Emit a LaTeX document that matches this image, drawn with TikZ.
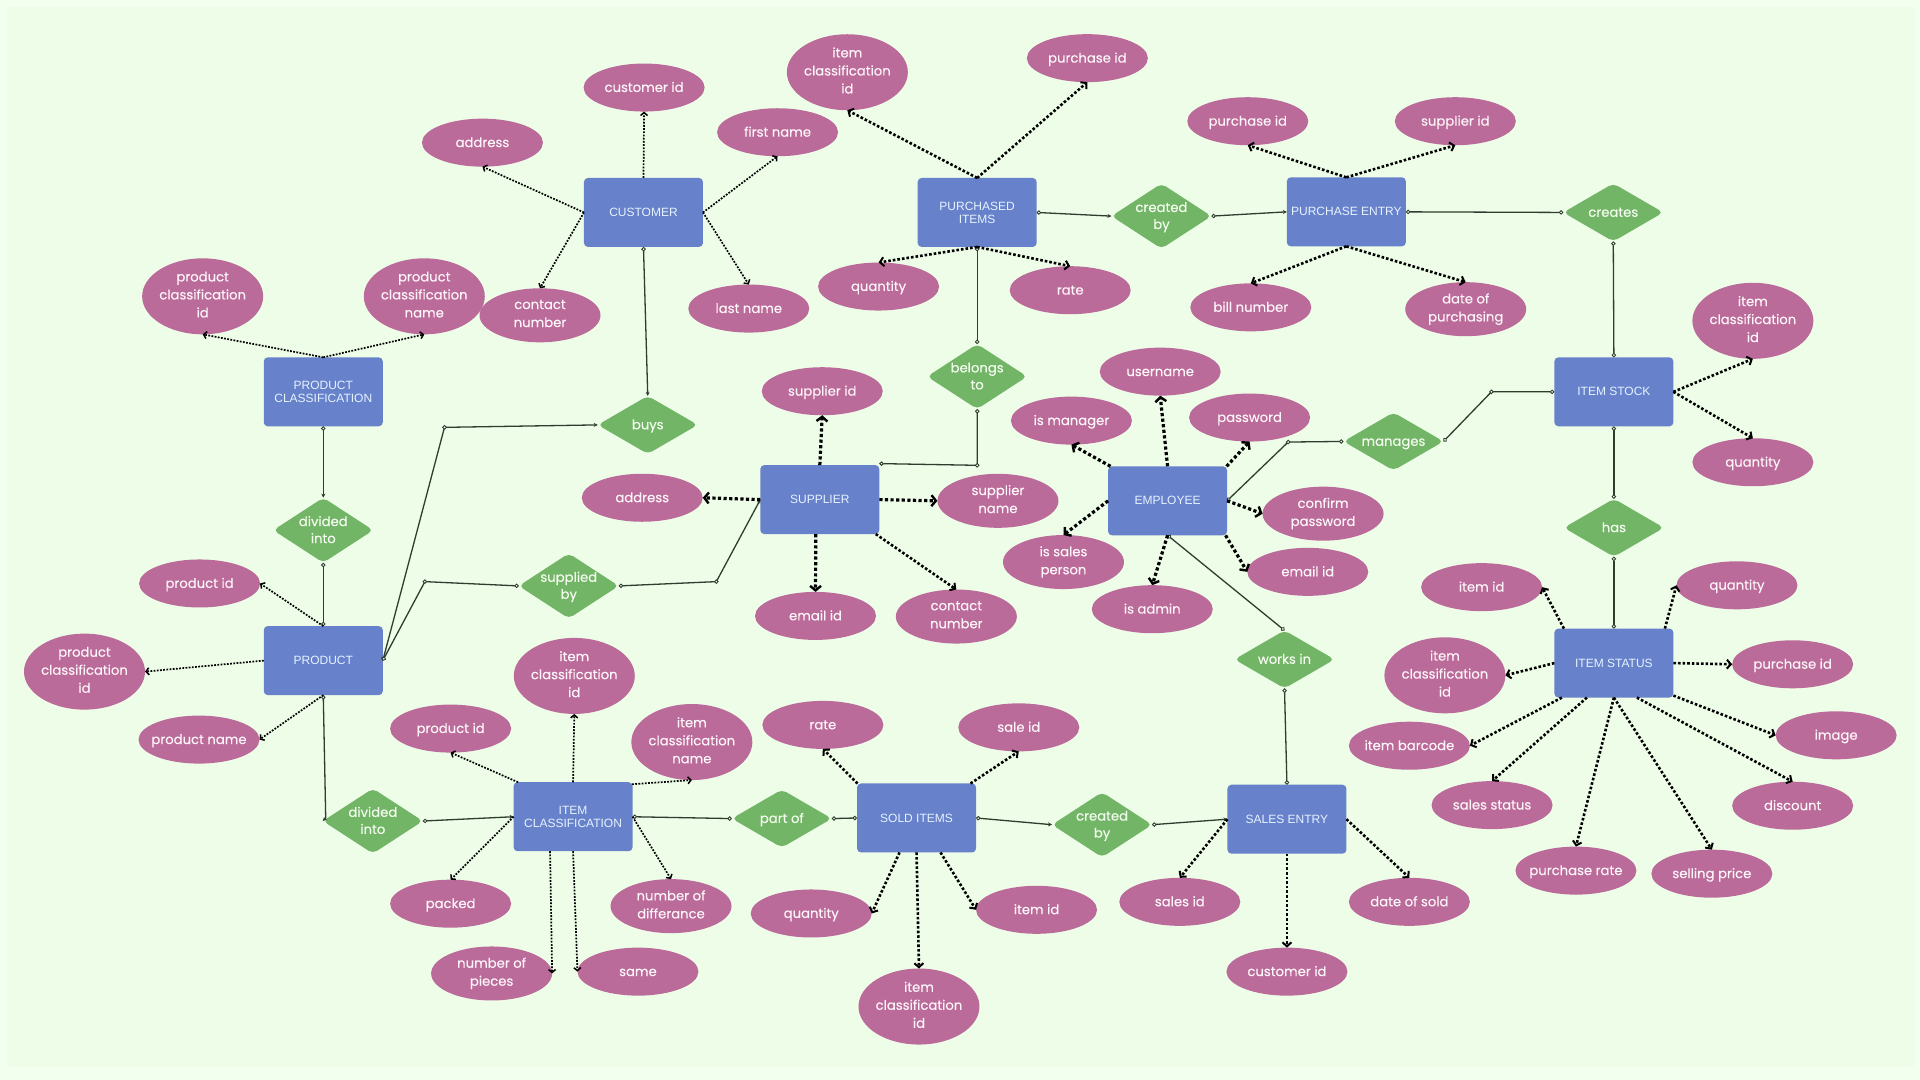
\documentclass[tikz,border=0pt]{standalone}
\usepackage{fontspec}
\setmainfont{Poppins}[FakeBold=0.2]
\newfontfamily\boxfont{Liberation Sans}
\usetikzlibrary{shapes.geometric,arrows.meta}
\definecolor{bgout}{HTML}{F3FFEE}
\definecolor{bgin}{HTML}{EEFDE8}
\definecolor{entc}{HTML}{6781CB}
\definecolor{attc}{HTML}{BB6B9A}
\definecolor{relc}{HTML}{72B566}
\definecolor{attt}{HTML}{FDF5F9}
\definecolor{entt}{HTML}{E6F3FF}
\definecolor{relt}{HTML}{F4FCEF}
\definecolor{solidc}{HTML}{2E3D2E}
\newcommand{\RL}[1]{\smash{\makebox[0pt]{\raisebox{-0.3em}{\begin{tabular}{@{}c@{}}#1\end{tabular}}}}}
\tikzset{
  ent/.style={draw=none,fill=entc,rounded corners=4pt,minimum width=119pt,minimum height=69pt,inner sep=0pt,outer sep=0pt,align=center,text=entt,font=\boxfont\fontsize{12}{13}\selectfont},
  att/.style={ellipse,draw=none,fill=attc,minimum width=121pt,minimum height=48pt,inner xsep=-30pt,inner ysep=-20pt,outer sep=0pt,align=center,text=attt,font=\fontsize{13.2}{18}\selectfont,execute at begin node={\rule{0pt}{12.4pt}},execute at end node={\vphantom{hg}}},
  att2/.style={att,minimum height=54pt},
  att3/.style={att,minimum height=76pt},
  rel/.style={diamond,draw=none,fill=relc,rounded corners=5pt,minimum width=100pt,minimum height=65pt,inner sep=0pt,outer sep=0pt,text=relt,font=\fontsize{13.2}{17}\selectfont},
  relone/.style={rel,minimum height=58pt},
  conn/.style={draw=solidc,line width=1.3pt,{Circle[open,fill=white,length=4.4pt,width=4.4pt,line width=.9pt]}-{Stealth[length=4pt,width=4pt]}},
  conncc/.style={draw=solidc,line width=1.3pt,{Circle[open,fill=white,length=4.4pt,width=4.4pt,line width=.9pt]}-{Circle[open,fill=white,length=4.4pt,width=4.4pt,line width=.9pt]}},
  dotthin/.style={draw=black,line width=1.7pt,dash pattern=on 1.8pt off 1.4pt,-{Straight Barb[length=3pt,width=7pt,line width=1.5pt]}},
  dotmid/.style={draw=black,line width=2.6pt,dash pattern=on 2.6pt off 2pt,-{Straight Barb[length=4pt,width=9pt,line width=2pt]}},
  dotthick/.style={draw=black,line width=3.2pt,dash pattern=on 3.2pt off 2.4pt,-{Straight Barb[length=4.5pt,width=11pt,line width=2.4pt]}},
  elbow/.style={draw=solidc,fill=white,line width=.9pt},
}
\begin{document}
\begin{tikzpicture}[x=1.22449pt,y=-1.22449pt]
\useasboundingbox (0,0) rectangle (1568,882);
\fill[bgout] (0,0) rectangle (1568,882);
\fill[bgin] (5.5,5.5) rectangle (1563,871);

% entities
\node[ent] (customer) at (525.5,173.5) {CUSTOMER};
\node[ent] (purchased) at (798,173.5) {PURCHASED\\ITEMS};
\node[ent] (pentry) at (1099.5,173) {PURCHASE ENTRY};
\node[ent] (pclass) at (264,320) {PRODUCT\\CLASSIFICATION};
\node[ent] (stock) at (1318,320) {ITEM STOCK};
\node[ent] (supplier) at (669.5,408) {SUPPLIER};
\node[ent] (employee) at (953.5,409) {EMPLOYEE};
\node[ent] (product) at (264,539.5) {PRODUCT};
\node[ent] (status) at (1318,541.5) {ITEM STATUS};
\node[ent] (iclass) at (468,667) {ITEM\\CLASSIFICATION};
\node[ent] (sold) at (748.5,668) {SOLD ITEMS};
\node[ent] (sentry) at (1051,669) {SALES ENTRY};

% relationships
\node[rel] (createdA) at (948.5,176.5) {\RL{created\\by}};
\node[relone] (creates) at (1317.5,173.5) {\RL{creates}};
\node[rel] (belongs) at (798,307.5) {\RL{belongs\\to}};
\node[relone] (buys) at (529,347) {\RL{buys}};
\node[relone] (manages) at (1138,360.5) {\RL{manages}};
\node[rel] (dividedA) at (264,433) {\RL{divided\\into}};
\node[relone] (has) at (1318,431) {\RL{has}};
\node[rel] (supplied) at (464.5,478.5) {\RL{supplied\\by}};
\node[relone] (works) at (1049,538.5) {\RL{works in}};
\node[rel] (dividedB) at (304.5,670.5) {\RL{divided\\into}};
\node[relone] (partof) at (638.5,668.5) {\RL{part of}};
\node[rel] (createdB) at (900,673.5) {\RL{created\\by}};

% attributes
\node[att] (cuId) at (526,71.5) {customer id};
\node[att] (cuAddr) at (394,116.5) {address};
\node[att] (cuFirst) at (635,108) {first name};
\node[att2] (cuContact) at (441,257.5) {contact\\number};
\node[att] (cuLast) at (611.5,252) {last name};
\node[att3] (piClass) at (692,59) {item\\classification\\id};
\node[att] (piPurch) at (888,47.5) {purchase id};
\node[att] (peId) at (1019,99) {purchase id};
\node[att] (peSup) at (1188.5,99) {supplier id};
\node[att] (piQty) at (717.5,234) {quantity};
\node[att] (piRate) at (874,237) {rate};
\node[att] (peBill) at (1021.5,251) {bill number};
\node[att2] (peDate) at (1197,252.5) {date of\\purchasing};
\node[att3] (pcId) at (165.5,242) {product\\classification\\id};
\node[att3] (pcName) at (346.5,242) {product\\classification\\name};
\node[att] (suId) at (671.5,319.5) {supplier id};
\node[att] (suAddr) at (524.5,406.5) {address};
\node[att2] (suName) at (815,409) {supplier\\name};
\node[att] (suMail) at (666,503) {email id};
\node[att2] (suContact) at (781,503.5) {contact\\number};
\node[att] (emUser) at (947.5,303.5) {username};
\node[att] (emMgr) at (875,343.5) {is manager};
\node[att] (emPass) at (1020.5,341) {password};
\node[att2] (emConf) at (1080.5,419.5) {confirm\\password};
\node[att] (emMail) at (1068,467) {email id};
\node[att2] (emSales) at (868.5,459) {is sales\\person};
\node[att] (emAdmin) at (941,497.5) {is admin};
\node[att3] (stClass) at (1431.5,262) {item\\classification\\id};
\node[att] (stQty) at (1431.5,377.5) {quantity};
\node[att] (isId) at (1210,479.5) {item id};
\node[att] (isQty) at (1418.5,478) {quantity};
\node[att3] (isClass) at (1180,551.5) {item\\classification\\id};
\node[att] (isPurch) at (1464,542.5) {purchase id};
\node[att] (isBar) at (1151,609) {item barcode};
\node[att] (isImg) at (1499.5,600.5) {image};
\node[att] (isSales) at (1218.5,657.5) {sales status};
\node[att] (isDisc) at (1464,658) {discount};
\node[att] (isRate) at (1287,711) {purchase rate};
\node[att] (isSell) at (1398,713.5) {selling price};
\node[att] (prId) at (163,476.5) {product id};
\node[att3] (prClass) at (69,548.5) {product\\classification\\id};
\node[att] (prName) at (162.5,604) {product name};
\node[att] (icPid) at (368,595) {product id};
\node[att3] (icId) at (469,552) {item\\classification\\id};
\node[att3] (icName) at (565,606) {item\\classification\\name};
\node[att] (icPacked) at (368,738) {packed};
\node[att2] (icDiff) at (548,740) {number of\\differance};
\node[att2] (icPieces) at (401.5,795) {number of\\pieces};
\node[att] (icSame) at (521,793.5) {same};
\node[att] (soRate) at (672,592) {rate};
\node[att] (soSale) at (832,594) {sale id};
\node[att] (soQty) at (662.5,746) {quantity};
\node[att] (soItem) at (846.5,743) {item id};
\node[att3] (soClass) at (750.5,822) {item\\classification\\id};
\node[att] (seSales) at (963.5,736.5) {sales id};
\node[att] (seDate) at (1151,736.5) {date of sold};
\node[att] (seCust) at (1051,793.5) {customer id};

% elbow points
\coordinate (eBuys) at (363,349);
\coordinate (eSupA) at (347,475);
\coordinate (eSupB) at (585,475);
\coordinate (eBel) at (798,380);
\coordinate (eMan) at (1052,361);
\coordinate (eSto) at (1218,320);
\coordinate (eDiv) at (266,668);

% solid connectors
\draw[conn] (customer.south) -- (buys.north);
\draw[conn] (product.east) -- (eBuys) -- (buys.west);
\draw[conncc] (product.east) -- (eSupA) -- (supplied.west);
\draw[conn] (supplied.east) -- (eSupB) -- (supplier.west);
\draw[conncc] (purchased.south) -- (belongs.north);
\draw[conncc] (belongs.south) -- (eBel) -- ([yshift=1.5pt]supplier.north east);
\draw[conn] (purchased.east) -- (createdA.west);
\draw[conn] (createdA.east) -- (pentry.west);
\draw[conncc] (pentry.east) -- (creates.west);
\draw[conncc] (creates.south) -- (stock.north);
\draw[conncc] (employee.east) -- (eMan) -- (manages.west);
\draw[conncc] (manages.east) -- (eSto) -- (stock.west);
\draw[conncc] (stock.south) -- (has.north);
\draw[conncc] (has.south) -- (status.north);
\draw[conn] (pclass.south) -- (dividedA.north);
\draw[conncc] (dividedA.south) -- (product.north);
\draw[conncc] (employee.south) -- (works.north);
\draw[conncc] (works.south) -- (sentry.north);
\draw[conn] (product.south) -- (eDiv) -- (dividedB.west);
\draw[conn] (dividedB.east) -- (iclass.west);
\draw[conncc] (iclass.east) -- (partof.west);
\draw[conncc] (partof.east) -- (sold.west);
\draw[conn] (sold.east) -- (createdB.west);
\draw[conn] (createdB.east) -- (sentry.west);
\foreach \e in {eBuys,eSupA,eSupB,eBel,eMan,eSto}{\draw[elbow] (\e) circle (1.8pt);}

% dotted connectors
\draw[dotthin] (customer.north) -- (cuId.south);
\draw[dotthin] (customer.west) -- (cuAddr.south);
\draw[dotthin] (customer.east) -- (cuFirst.south);
\draw[dotthin] (customer.west) -- (cuContact.north);
\draw[dotthin] (customer.east) -- (cuLast.north);
\draw[dotmid] (purchased.north) -- (piClass.south);
\draw[dotmid] (purchased.north) -- (piPurch.south);
\draw[dotmid] (purchased.south) -- (piQty.north);
\draw[dotmid] (purchased.south) -- (piRate.north);
\draw[dotmid] (pentry.north) -- (peId.south);
\draw[dotmid] (pentry.north) -- (peSup.south);
\draw[dotmid] (pentry.south) -- (peBill.north);
\draw[dotmid] (pentry.south) -- (peDate.north);
\draw[dotthin] (pclass.north) -- (pcId.south);
\draw[dotthin] (pclass.north) -- (pcName.south);
\draw[dotthick] (supplier.north) -- (suId.south);
\draw[dotthick] (supplier.west) -- (suAddr.east);
\draw[dotthick] (supplier.east) -- (suName.west);
\draw[dotthick] ([xshift=-4pt]supplier.south) -- (suMail.north);
\draw[dotmid] ([xshift=56pt]supplier.south) -- (suContact.north);
\draw[dotthick] ([xshift=-57pt]employee.north) -- (emMgr.south);
\draw[dotthick] (employee.north) -- (emUser.south);
\draw[dotthick] ([xshift=59pt]employee.north) -- (emPass.south);
\draw[dotthick] (employee.east) -- (emConf.west);
\draw[dotthick] ([xshift=58pt]employee.south) -- (emMail.west);
\draw[dotthick] (employee.west) -- (emSales.north);
\draw[dotthick] (employee.south) -- (emAdmin.north);
\draw[dotmid] (stock.east) -- (stClass.south);
\draw[dotmid] (stock.east) -- (stQty.north);
\draw[dotmid] ([xshift=-50pt]status.north) -- (isId.east);
\draw[dotmid] ([xshift=51pt]status.north) -- (isQty.west);
\draw[dotmid] (status.west) -- (isClass.east);
\draw[dotmid] (status.east) -- (isPurch.west);
\draw[dotmid] ([xshift=-52pt]status.south) -- (isBar.east);
\draw[dotmid] ([xshift=-27pt]status.south) -- (isSales.north);
\draw[dotmid] (status.south) -- (isRate.north);
\draw[dotmid] (status.south) -- (isSell.north);
\draw[dotmid] ([xshift=23pt]status.south) -- (isDisc.north);
\draw[dotmid] ([yshift=2pt]status.south east) -- (isImg.west);
\draw[dotthin] (product.north) -- (prId.east);
\draw[dotthin] (product.west) -- (prClass.east);
\draw[dotthin] (product.south) -- (prName.east);
\draw[dotthin] ([xshift=-55pt]iclass.north) -- (icPid.south);
\draw[dotthin] (iclass.north) -- (icId.south);
\draw[dotthin] ([xshift=59pt,yshift=-2pt]iclass.north) -- (icName.south);
\draw[dotthin] (iclass.west) -- (icPacked.north);
\draw[dotthin] (iclass.east) -- (icDiff.north);
\draw[dotthin] ([xshift=-23pt]iclass.south) -- (icPieces.east);
\draw[dotthin] (iclass.south) -- (icSame.west);
\draw[dotmid] ([xshift=-59pt]sold.north) -- (soRate.south);
\draw[dotmid] ([xshift=54pt]sold.north) -- (soSale.south);
\draw[dotmid] ([xshift=-17pt]sold.south) -- (soQty.east);
\draw[dotmid] ([xshift=24pt]sold.south) -- (soItem.west);
\draw[dotmid] (sold.south) -- (soClass.north);
\draw[dotmid] (sentry.west) -- (seSales.north);
\draw[dotmid] (sentry.east) -- (seDate.north);
\draw[dotmid] (sentry.south) -- (seCust.north);
\end{tikzpicture}
\end{document}
